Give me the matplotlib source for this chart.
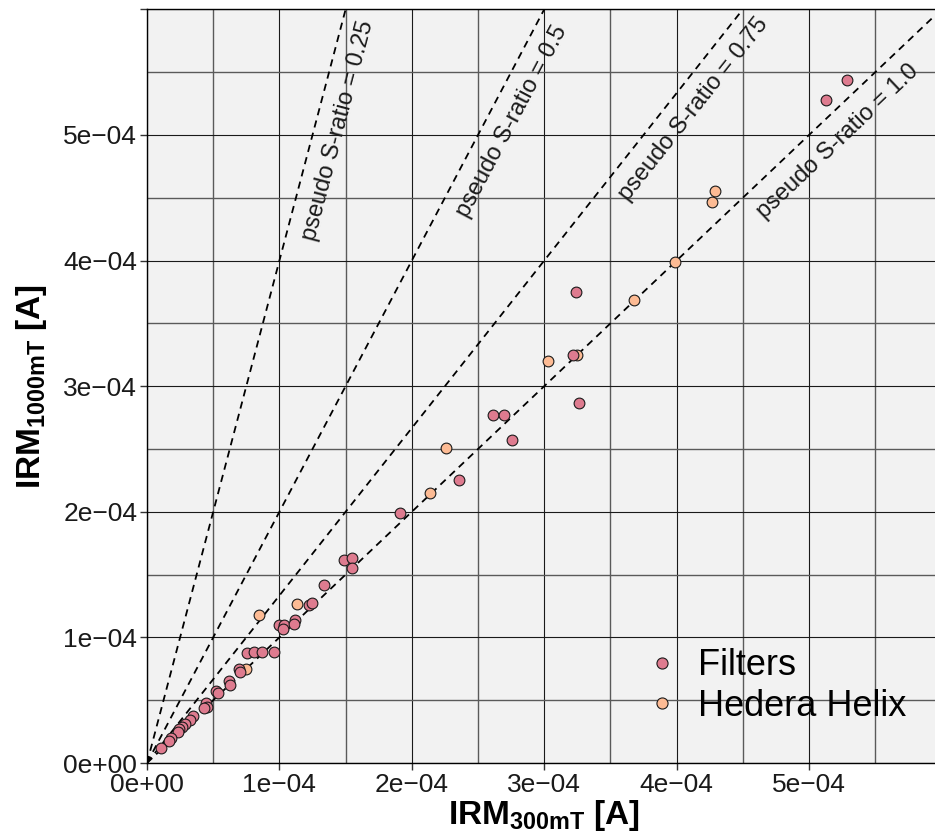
import numpy as np
import matplotlib
matplotlib.use("Agg")
import matplotlib.pyplot as plt
from matplotlib.ticker import MultipleLocator, FuncFormatter
from matplotlib.lines import Line2D

plt.rcParams['font.family'] = ['Liberation Sans', 'DejaVu Sans']
plt.rcParams['mathtext.fontset'] = 'custom'
plt.rcParams['mathtext.rm'] = 'Liberation Sans'
plt.rcParams['mathtext.bf'] = 'Liberation Sans:bold'
plt.rcParams['mathtext.it'] = 'Liberation Sans:italic'

# ---- data (units of 1e-4 A) ----
filters_x = [5.29, 5.13, 3.24, 3.22, 3.26, 2.61, 2.70, 2.76, 2.36, 1.91,
             1.49, 1.55, 1.55, 1.34, 1.22, 1.245, 1.00, 1.035, 1.03, 1.115, 1.11,
             0.755, 0.81, 0.87, 0.96,
             0.695, 0.70, 0.62, 0.624, 0.524, 0.534, 0.443, 0.451, 0.433,
             0.35, 0.325, 0.287, 0.267, 0.244, 0.232, 0.179, 0.169, 0.103]
filters_y = [5.44, 5.28, 3.75, 3.25, 2.87, 2.77, 2.77, 2.57, 2.25, 1.99,
             1.62, 1.63, 1.55, 1.42, 1.26, 1.275, 1.10, 1.095, 1.065, 1.14, 1.11,
             0.878, 0.886, 0.886, 0.886,
             0.746, 0.727, 0.655, 0.62, 0.576, 0.555, 0.48, 0.448, 0.44,
             0.374, 0.342, 0.308, 0.289, 0.268, 0.244, 0.202, 0.175, 0.117]
hedera_x = [4.29, 4.27, 3.99, 3.68, 3.245, 3.03, 2.26, 2.14, 1.13, 0.848, 0.748]
hedera_y = [4.556, 4.47, 3.99, 3.686, 3.25, 3.20, 2.51, 2.15, 1.264, 1.18, 0.746]

ratios = [0.25, 0.5, 0.75, 1.0]
ratio_labels = ["pseudo S-ratio = 0.25", "pseudo S-ratio = 0.5",
                "pseudo S-ratio = 0.75", "pseudo S-ratio = 1.0"]
label_y = [5.08, 5.20, 5.32, 5.09]  # position along each line (1e-4)

scale = 1e-4
fx = np.array(filters_x) * scale
fy = np.array(filters_y) * scale
hx = np.array(hedera_x) * scale
hy = np.array(hedera_y) * scale

c_filters = '#DE7B8F'
c_hedera = '#FDBB94'

W, H = 935, 838
fig = plt.figure(figsize=(W / 100, H / 100), dpi=100)
ax = fig.add_axes([147 / W, 75 / H, 794.4 / W, 753.6 / H])
ax.set_facecolor('#f2f2f2')
xmax = ymax = 6e-4
ax.set_xlim(0, xmax)
ax.set_ylim(0, ymax)

ax.xaxis.set_major_locator(MultipleLocator(1e-4))
ax.yaxis.set_major_locator(MultipleLocator(1e-4))
ax.xaxis.set_minor_locator(MultipleLocator(0.5e-4))
ax.yaxis.set_minor_locator(MultipleLocator(0.5e-4))

def fmt(v, pos):
    if v > 5.5e-4:
        return ''
    return f"{v:.0e}".replace('-', '\u2212')
ax.xaxis.set_major_formatter(FuncFormatter(fmt))
ax.yaxis.set_major_formatter(FuncFormatter(fmt))

ax.grid(which='major', color='#1a1a1a', lw=0.8)
ax.grid(which='minor', color='#5a5a5a', lw=1.0)
ax.set_axisbelow(True)
ax.tick_params(which='major', direction='out', length=5, width=1, color='#333333',
               labelsize=19, labelcolor='#1a1a1a', pad=2)
ax.tick_params(which='minor', length=0)
for s in ax.spines.values():
    s.set_color('black')
    s.set_linewidth(1.0)

# reference lines
xs = np.array([0, xmax])
for r, lab, ly in zip(ratios, ratio_labels, label_y):
    ax.plot(xs, xs / r, ls=(0, (4, 3)), color='black', lw=1.3, zorder=2)
    py = ly * scale
    px = py * r
    ang = np.degrees(np.arctan2(1 / r, 1))
    disp_ang = ax.transData.transform_angles(np.array([ang]), np.array([[px, py]]))[0]
    t = np.radians(disp_ang)
    off = 24
    ax.annotate(lab, xy=(px, py), xytext=(off * np.sin(t), -off * np.cos(t)),
                textcoords='offset pixels', rotation=disp_ang, rotation_mode='anchor',
                ha='center', va='center', fontsize=17, color='#1a1a1a', zorder=3)

ax.scatter(hx, hy, s=60, c=c_hedera, edgecolors='#1a1a1a', linewidths=0.8, zorder=4)
ax.scatter(fx, fy, s=60, c=c_filters, edgecolors='#1a1a1a', linewidths=0.8, zorder=5)

ax.set_xlabel(r'$\mathbf{IRM_{300mT}}$ [A]', fontsize=24, fontweight='bold', labelpad=1)
ax.set_ylabel(r'$\mathbf{IRM_{1000mT}}$ [A]', fontsize=24, fontweight='bold', labelpad=10)

handles = [Line2D([], [], ls='', marker='o', ms=8, mfc=c_filters, mec='#1a1a1a', mew=0.8),
           Line2D([], [], ls='', marker='o', ms=8, mfc=c_hedera, mec='#1a1a1a', mew=0.8)]
fig.legend(handles, ['Filters', 'Hedera Helix'], loc='center left',
           bbox_to_anchor=(644 / W, 1 - 686 / H), frameon=False, fontsize=26,
           handlelength=1.0, handletextpad=0.5, labelspacing=0.15,
           borderpad=0, borderaxespad=0)

fig.savefig('out.png', dpi=100)
